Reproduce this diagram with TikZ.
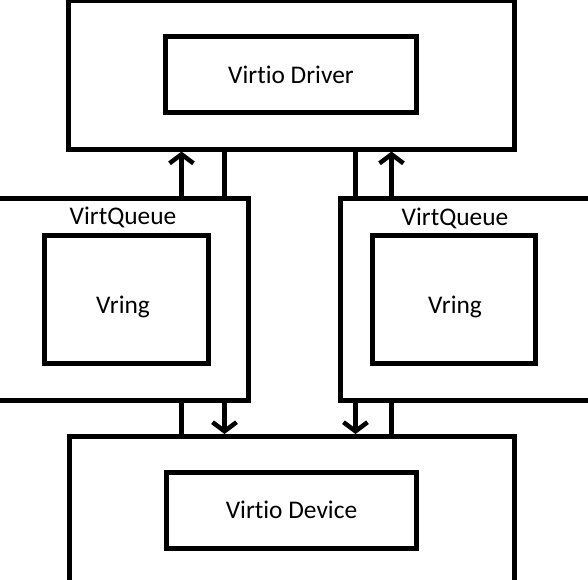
\documentclass[tikz,border=0pt]{standalone}
\usepackage{fontspec}
\setmainfont[Ligatures=NoCommon]{Carlito}
\usetikzlibrary{arrows.meta}
\begin{document}
\begin{tikzpicture}[x=1pt,y=-1pt,
  box/.style={draw=black,line width=5pt,fill=none,inner sep=0pt},
  lbl/.style={font=\fontsize{25.4}{30}\selectfont,inner sep=0pt},
  link/.style={line width=4.5pt},
  arr/.style={line width=4.5pt,-{Straight Barb[length=9pt,width=24pt,line width=4.5pt]}}]
\useasboundingbox (0,0) rectangle (588,579);
% outer boxes
\node[box,minimum width=446pt,minimum height=148.5pt] (top) at (291.5,74.75) {};
\node[box,minimum width=251pt,minimum height=76pt,lbl] (drv) at (291,74.5) {Virtio Driver};
\node[box,minimum width=258.5pt,minimum height=201.5pt] (vql) at (119.25,299.25) {};
\node[box,minimum width=163.5pt,minimum height=128.5pt] (vrl) at (126.25,299.25) {};
\node[lbl] (vrll) at (123,307) {Vring};
\node[lbl] (vqll) at (123,217.5) {VirtQueue};
\node[box,minimum width=260pt,minimum height=201.5pt] (vqr) at (470,299.25) {};
\node[box,minimum width=163pt,minimum height=128.5pt] (vrr) at (454,299.25) {};
\node[lbl] (vrrl) at (455,307) {Vring};
\node[lbl] (vqrl) at (455,218) {VirtQueue};
\node[box,minimum width=445.5pt,minimum height=153.5pt] (bot) at (291.75,513.25) {};
\node[box,minimum width=250pt,minimum height=76.5pt,lbl] (dev) at (291.5,510.25) {Virtio Device};
% x positions
\coordinate (xa) at (181.5,0);
\coordinate (xb) at (224.5,0);
\coordinate (xc) at (355.5,0);
\coordinate (xd) at (391.5,0);
% connectors
\draw[arr] (vql.north -| xa) -- (top.south -| xa);
\draw[link] (top.south -| xb) -- (vql.north -| xb);
\draw[link] (top.south -| xc) -- (vqr.north -| xc);
\draw[arr] (vqr.north -| xd) -- (top.south -| xd);
\draw[link] (vql.south -| xa) -- (bot.north -| xa);
\draw[arr] (vql.south -| xb) -- (bot.north -| xb);
\draw[arr] (vqr.south -| xc) -- (bot.north -| xc);
\draw[link] (vqr.south -| xd) -- (bot.north -| xd);
\end{tikzpicture}
\end{document}
